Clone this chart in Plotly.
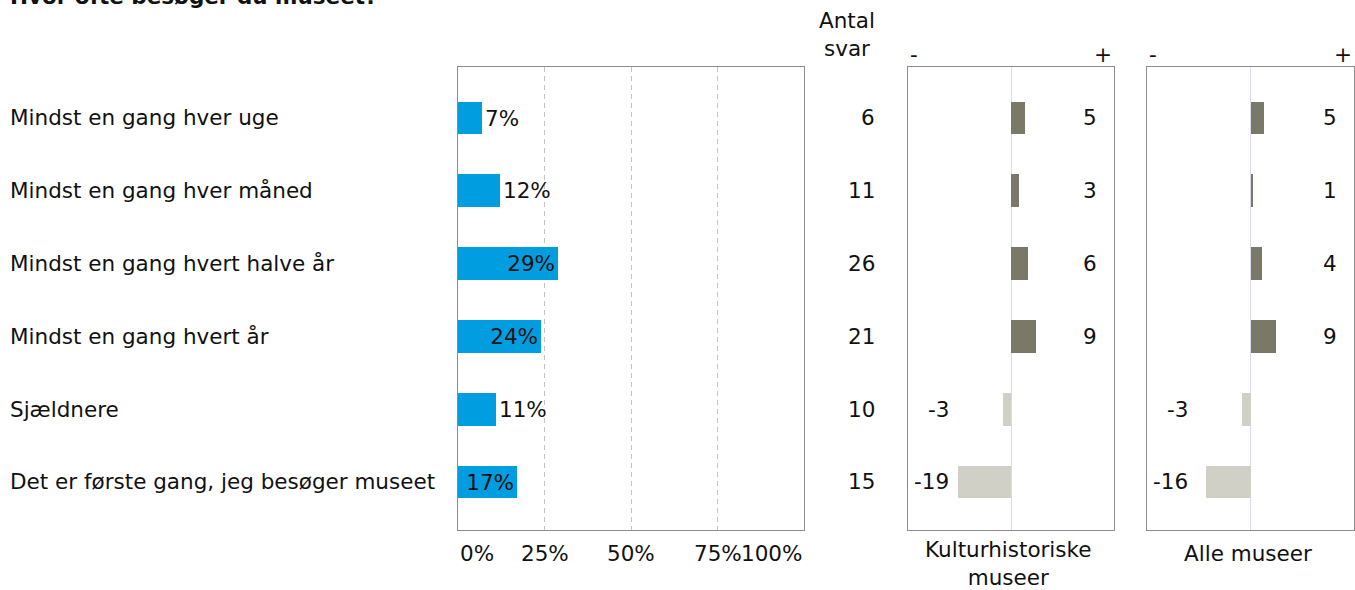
import plotly.graph_objects as go

# ---- data ----
categories = [
    "Mindst en gang hver uge",
    "Mindst en gang hver måned",
    "Mindst en gang hvert halve år",
    "Mindst en gang hvert år",
    "Sjældnere",
    "Det er første gang, jeg besøger museet",
]
shares = [7, 12, 29, 24, 11, 17]
counts = [6, 11, 26, 21, 10, 15]
diff_kultur = [5, 3, 6, 9, -3, -19]
diff_alle = [5, 1, 4, 9, -3, -16]
tick_vals = [0, 25, 50, 75, 100]
tick_labels = ["0%", "25%", "50%", "75%", "100%"]
title_text = "Hvor ofte besøger du museet?"
count_header = "Antal<br>svar"
panel_titles = ["Kulturhistoriske<br>museer", "Alle museer"]

# ---- style ----
W, H = 1355, 590
FONT = "DejaVu Sans"
FS = 21.5
BLUE = "#009ee0"
POS = "#7a7866"
NEG = "#d0d0c6"
BORDER = "#8c8c8c"


def px_x(p):
    return p / W


def px_y(p):
    return 1 - p / H


y_dom = [px_y(530), px_y(67)]
y_range = [5.66, -0.70]

fig = go.Figure()

fig.add_trace(go.Bar(
    y=categories, x=shares, orientation="h", width=0.45,
    marker=dict(color=BLUE, line=dict(width=0)),
    text=[f"{v}%" for v in shares],
    textposition=["inside" if v >= 15 else "outside" for v in shares],
    insidetextanchor="end",
    textfont=dict(family=FONT, size=FS, color="#111111"),
    insidetextfont=dict(family=FONT, size=FS, color="#111111"),
    outsidetextfont=dict(family=FONT, size=FS, color="#111111"),
    cliponaxis=False,
    xaxis="x", yaxis="y", showlegend=False, hoverinfo="skip",
))

for i, vals in enumerate([diff_kultur, diff_alle]):
    xa = "x2" if i == 0 else "x3"
    ya = "y2" if i == 0 else "y3"
    fig.add_trace(go.Bar(
        y=categories, x=vals, orientation="h", width=0.45,
        marker=dict(color=[POS if v > 0 else NEG for v in vals], line=dict(width=0)),
        xaxis=xa, yaxis=ya, showlegend=False, hoverinfo="skip",
    ))

axis_common = dict(showline=True, linecolor=BORDER, linewidth=1, mirror=True,
                   ticks="", showticklabels=False, fixedrange=True)
ycommon = dict(axis_common, type="category", categoryorder="array",
               categoryarray=categories, range=y_range, domain=y_dom, showgrid=False,
               zeroline=False)

fig.update_layout(
    width=W, height=H,
    margin=dict(l=0, r=0, t=0, b=0, pad=0),
    paper_bgcolor="white", plot_bgcolor="white",
    font=dict(family=FONT, size=FS, color="#111111"),
    bargap=0,
    xaxis=dict(axis_common, domain=[px_x(458), px_x(804)], range=[0, 100],
               tickvals=tick_vals, showgrid=True, gridcolor="#c4c4c4",
               griddash="5px,4px", gridwidth=1, zeroline=False, anchor="y"),
    yaxis=dict(ycommon, anchor="x"),
    xaxis2=dict(axis_common, domain=[px_x(908), px_x(1114)], range=[-37, 37],
                showgrid=False, zeroline=True, zerolinecolor="#dadaf0",
                zerolinewidth=1, anchor="y2"),
    yaxis2=dict(ycommon, anchor="x2"),
    xaxis3=dict(axis_common, domain=[px_x(1147), px_x(1354)], range=[-37, 37],
                showgrid=False, zeroline=True, zerolinecolor="#dadaf0",
                zerolinewidth=1, anchor="y3"),
    yaxis3=dict(ycommon, anchor="x3"),
)

ann = []
# title (partly cut at top, as in the reference)
ann.append(dict(text=f"<b>{title_text}</b>", xref="paper", yref="paper",
                x=px_x(8), y=px_y(-4), xanchor="left", yanchor="middle",
                showarrow=False, font=dict(family=FONT, size=FS)))
# category labels
for c in categories:
    ann.append(dict(text=c, xref="paper", yref="y", x=px_x(8), y=c,
                    xanchor="left", yanchor="middle", showarrow=False))
# tick labels main axis
for v, t in zip(tick_vals, tick_labels):
    anchor = "left" if v == tick_vals[0] else ("right" if v == tick_vals[-1] else "center")
    ann.append(dict(text=t, xref="x", yref="paper", x=v, y=px_y(553),
                    xanchor=anchor, yanchor="middle", showarrow=False))
# counts column
ann.append(dict(text=count_header, xref="paper", yref="paper", x=px_x(847), y=px_y(35),
                xanchor="center", yanchor="middle", showarrow=False, align="center"))
for c, n in zip(categories, counts):
    ann.append(dict(text=str(n), xref="paper", yref="y", x=px_x(877), y=c,
                    xanchor="right", yanchor="middle", showarrow=False))
# difference panels
for i, vals in enumerate([diff_kultur, diff_alle]):
    xr = "x2" if i == 0 else "x3"
    yr = "y2" if i == 0 else "y3"
    for c, v in zip(categories, vals):
        ann.append(dict(text=str(v), xref=xr, yref=yr, x=31.5 if v > 0 else -21.5, y=c,
                        xanchor="right", yanchor="middle", showarrow=False))
    ann.append(dict(text="-", xref=xr, yref="paper", x=-37, y=px_y(55),
                    xanchor="left", yanchor="middle", showarrow=False))
    ann.append(dict(text="+", xref=xr, yref="paper", x=37, y=px_y(55),
                    xanchor="right", yanchor="middle", showarrow=False))
    ann.append(dict(text=panel_titles[i], xref=xr, yref="paper", x=-1, y=px_y(553),
                    xanchor="center", yanchor="middle",
                    showarrow=False, align="center",
                    yshift=-10 if "<br>" in panel_titles[i] else 0))

fig.update_layout(annotations=ann)

fig.write_html("out.html", config={"displayModeBar": False},
               post_script="document.body.style.margin='0px';")
